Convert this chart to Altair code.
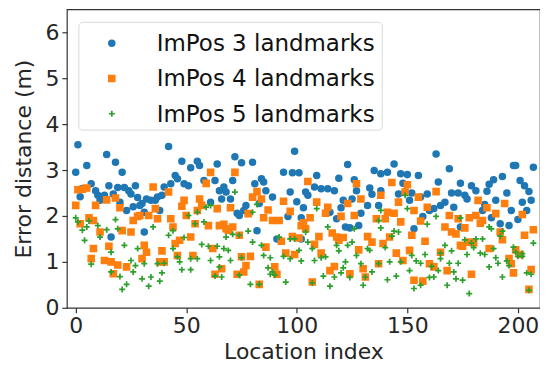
import altair as alt
import pandas as pd

# ImPos 3 landmarks
idx3 = [0,1,2,3,5,7,9,10,11,13,14,15,16,17,18,19,20,21,22,23,24,25,26,27,28,29,
        30,31,31,32,34,36,37,38,39,40,42,43,45,46,48,49,51,52,55,56,58,61,63,64,65,
        66,67,68,70,71,72,73,74,75,76,77,80,81,82,83,84,85,86,89,91,94,96,97,98,99,100,101,102,
        102,103,104,105,108,109,111,114,115,117,118,119,120,121,122,123,124,125,126,127,128,129,132,133,134,135,137,138,
        138,141,144,146,147,148,149,150,151,152,153,155,156,157,159,160,162,163,164,165,167,169,170,171,173,
        174,174,176,177,179,181,184,185,186,187,188,189,190,192,193,195,196,197,198,199,200,201,202,203,204,205,206,207]
err3 = [2.95,3.55,2.42,2.6,3.1,2.7,2.55,2.45,2.34,2.45,3.34,2.66,1.54,2.48,3.17,2.62,2.3,2.95,2.62,2.12,2.55,2.48,2.2,2.66,2.4,2.23,
        2.27,2.08,1.65,2.37,2.34,2.34,2.41,2.12,2.45,2.63,3.51,2.7,2.88,2.81,3.19,2.7,2.66,3.05,3.19,3.1,2.77,2.3,2.77,3.13,2.55,
        2.37,2.63,2.52,2.37,2.77,3.29,2.06,2.01,3.16,2.12,2.23,3.17,2.7,1.68,2.27,2.81,2.74,2.55,2.41,1.5,2.95,1.99,2.52,2.94,3.41,2.31,2.94,1.5,
        1.96,2.18,2.52,2.45,2.63,2.88,2.59,2.59,2.08,2.55,1.94,2.82,2.18,2.34,1.76,3.12,1.74,2.37,2.79,2.55,1.79,2.06,2.23,2.61,2.47,2.99,2.23,2.92,
        2.55,2.95,3.13,2.48,2.92,2.71,2.52,2.9,2.34,2.5,1.72,2.88,2.41,1.99,2.48,2.12,2.16,3.35,2.74,2.23,2.3,3.03,2.5,2.19,2.5,
        2.71,1.76,2.45,2.37,2.66,2.55,2.12,2.25,2.54,2.69,1.96,2.79,2.34,1.83,2.86,2.5,1.79,2.12,3.1,3.1,1.92,2.77,2.3,2.66,2.12,2.53,2.34,3.06]

# ImPos 4 landmarks
idx4 = [0,1,2,3,5,6,7,8,8,9,11,13,14,15,16,17,18,19,20,21,23,25,26,28,
        29,30,31,32,33,35,36,37,38,39,40,42,43,44,45,46,47,48,49,50,52,53,54,55,56,57,59,60,61,62,63,64,65,66,
        67,68,69,70,71,72,73,74,75,76,77,78,79,80,82,83,84,85,86,87,89,90,91,92,93,94,95,97,98,99,101,102,
        103,104,105,106,107,108,109,110,111,113,114,115,116,117,118,119,120,121,123,124,126,127,128,129,130,131,132,134,136,137,138,
        139,140,141,142,143,144,145,146,147,148,149,150,151,152,153,153,155,156,157,158,159,160,162,163,165,167,168,169,170,172,173,174,
        175,176,178,178,179,180,181,182,183,184,186,187,190,192,193,194,196,197,198,199,201,202,203,205,206,207]
err4 = [2.23,2.57,1.83,2.58,2.61,1.96,1.07,1.9,1.29,2.23,1.65,1.03,2.35,1.34,1.0,0.74,2.39,0.93,2.18,1.68,0.89,1.65,1.9,1.99,
        2.01,1.07,1.36,1.21,2.01,2.63,2.16,1.94,1.0,1.24,1.0,2.52,1.94,1.76,1.4,1.14,1.47,2.21,2.34,2.01,1.54,1.14,1.83,2.12,2.37,2.23,2.71,1.79,2.95,1.29,0.73,2.16,1.79,0.85,
        1.82,1.72,1.69,2.18,1.76,2.95,0.73,1.58,1.11,0.78,0.92,2.05,1.12,2.41,2.53,0.51,2.37,1.96,1.32,2.13,1.9,0.89,0.73,1.9,1.45,2.32,1.19,2.1,1.55,1.16,1.52,1.79,
        1.85,1.72,2.75,1.96,0.56,1.38,2.3,1.55,1.19,2.06,2.19,0.81,1.63,0.9,1.54,1.47,1.99,1.53,2.27,0.74,2.01,2.7,1.26,2.37,0.85,0.67,1.55,1.43,1.94,0.96,2.45,
        1.4,1.94,2.08,1.54,2.73,2.06,1.19,2.3,1.87,1.03,2.52,2.68,1.25,1.58,2.12,0.6,2.41,1.89,0.58,1.45,2.19,0.96,0.89,2.53,1.21,1.76,0.81,2.01,1.65,1.61,1.94,1.36,
        1.34,1.74,1.96,1.43,0.73,1.41,2.01,2.34,1.84,1.9,2.18,1.29,2.05,1.65,1.48,2.27,1.07,0.96,0.76,1.26,1.16,2.03,1.58,0.4,0.83,1.7]

# ImPos 5 landmarks
idx5 = [0,1,3,4,5,6,7,10,11,14,16,16,18,19,20,21,22,23,25,26,27,28,
        30,31,33,34,35,37,38,39,40,42,44,44,46,47,48,49,51,52,52,54,55,55,57,58,59,60,61,61,63,64,65,
        65,66,67,68,69,70,71,72,74,74,75,78,79,80,80,82,83,84,85,87,88,88,89,90,92,94,95,97,97,99,101,
        102,104,105,107,107,108,109,111,112,113,114,115,117,118,119,120,121,122,123,124,125,126,127,129,130,131,132,133,134,137,137,138,
        138,140,141,142,143,144,145,146,147,149,150,151,152,153,154,156,156,158,159,160,161,162,163,164,165,165,167,168,169,170,171,172,173,174,
        175,176,177,178,179,180,181,183,184,185,187,187,188,189,190,191,192,193,193,195,196,198,199,200,202,202,204,205,206,207]
err5 = [1.96,1.87,1.69,1.47,1.76,1.89,0.95,1.79,1.54,1.7,1.21,0.78,1.92,1.72,0.68,0.4,1.36,0.51,1.03,0.78,0.92,1.29,
        0.63,0.96,0.47,0.67,1.76,0.96,0.58,0.76,0.97,1.58,1.68,1.29,1.11,1.0,0.83,1.53,2.01,1.07,0.83,1.83,2.08,1.07,1.38,1.87,2.19,1.34,2.23,1.03,0.69,1.34,1.11,
        0.89,0.67,1.29,1.54,1.25,1.03,1.6,2.52,1.58,0.71,1.09,1.67,0.51,2.08,1.43,2.25,0.51,1.36,1.14,0.87,1.09,0.73,0.78,0.71,1.54,1.12,0.56,1.5,1.07,1.5,1.25,
        1.02,1.65,1.43,1.29,0.54,1.03,2.16,1.09,0.69,1.11,1.76,0.47,0.67,1.36,1.24,0.76,0.87,1.0,1.36,0.66,1.43,1.72,1.14,0.96,0.49,0.67,1.29,1.25,0.78,1.9,0.96,1.74,
        2.12,1.31,0.61,1.0,1.56,1.67,0.69,1.65,1.0,2.45,2.16,0.81,1.14,0.42,1.02,0.97,0.49,1.16,1.82,0.66,0.9,0.67,1.99,0.81,1.19,1.07,1.36,0.49,0.97,1.24,0.78,0.63,0.97,1.96,
        0.6,1.48,1.16,0.31,1.41,1.31,1.5,1.19,1.5,1.16,1.76,0.89,1.72,1.29,1.09,0.97,1.56,1.67,0.67,1.02,0.92,1.32,1.21,1.12,1.18,1.12,0.76,0.38,0.73,1.41]

labels = ["ImPos 3 landmarks", "ImPos 4 landmarks", "ImPos 5 landmarks"]
colors = ["#1f77b4", "#ff7f0e", "#2ca02c"]
shapes = ["circle", "square", "M-1,0L1,0M0,-1L0,1"]
sizes = [34, 36, 80]

rows = []
for lab, xs, ys in zip(labels, [idx3, idx4, idx5], [err3, err4, err5]):
    for x, y in zip(xs, ys):
        rows.append({"idx": x, "err": y, "series": lab})
df = pd.DataFrame(rows)

FONT = "DejaVu Sans"
TXT = "#262626"
FS = 22

color_enc = alt.Color("series:N", legend=None, scale=alt.Scale(domain=labels, range=colors))
stroke_enc = alt.Stroke("series:N", legend=None, scale=alt.Scale(domain=labels, range=colors))
shape_enc = alt.Shape("series:N", legend=None, scale=alt.Scale(domain=labels, range=shapes))
size_enc = alt.Size("series:N", legend=None, scale=alt.Scale(domain=labels, range=sizes))

points = alt.Chart(df).mark_point(filled=True, opacity=1, strokeWidth=1.7).encode(
    x=alt.X("idx:Q", title="Location index",
            scale=alt.Scale(domain=[-4, 210], nice=False, zero=False),
            axis=alt.Axis(values=[0, 50, 100, 150, 200])),
    y=alt.Y("err:Q", title="Error distance (m)",
            scale=alt.Scale(domain=[0, 6.5], nice=False),
            axis=alt.Axis(values=[0, 1, 2, 3, 4, 5, 6])),
    color=color_enc, stroke=stroke_enc, shape=shape_enc, size=size_enc,
)

# manual legend (layout in pixels of the plot area)
leg_rows = [{"series": lab, "ly": 34 + 35.3 * i} for i, lab in enumerate(labels)]
leg_df = pd.DataFrame(leg_rows)

leg_box = alt.Chart(pd.DataFrame({"a": [0]})).mark_rect(
    fill="white", stroke="#d6d6d6", strokeWidth=1, cornerRadius=4, opacity=0.9
).encode(x=alt.value(12), x2=alt.value(316), y=alt.value(13), y2=alt.value(121))

leg_sym = alt.Chart(leg_df).mark_point(filled=True, opacity=1, strokeWidth=1.7).encode(
    x=alt.value(45), y=alt.Y("ly:Q", scale=None),
    color=color_enc, stroke=stroke_enc, shape=shape_enc, size=size_enc,
)

leg_txt = alt.Chart(leg_df).mark_text(
    align="left", baseline="middle", font=FONT, fontSize=23, color="#111111", dy=1
).encode(x=alt.value(90), y=alt.Y("ly:Q", scale=None), text="series:N")

chart = alt.layer(points, leg_box, leg_sym, leg_txt).properties(
    width=474, height=299,
    autosize=alt.AutoSizeParams(type="none"),
    padding={"left": 59, "top": 1, "right": 0, "bottom": 56},
).configure_view(
    stroke="#333333", strokeWidth=1.2
).configure_axis(
    domain=False, grid=False,
    tickColor="#333333", tickSize=5, tickWidth=1.2,
    labelFont=FONT, labelFontSize=FS, labelColor=TXT, labelPadding=3,
    titleFont=FONT, titleFontSize=FS, titleColor=TXT, titleFontWeight="normal",
).configure_axisX(
    titlePadding=5
).configure_axisY(
    titlePadding=9
)

chart.save("out.html", embed_options={"renderer": "svg", "actions": False})
